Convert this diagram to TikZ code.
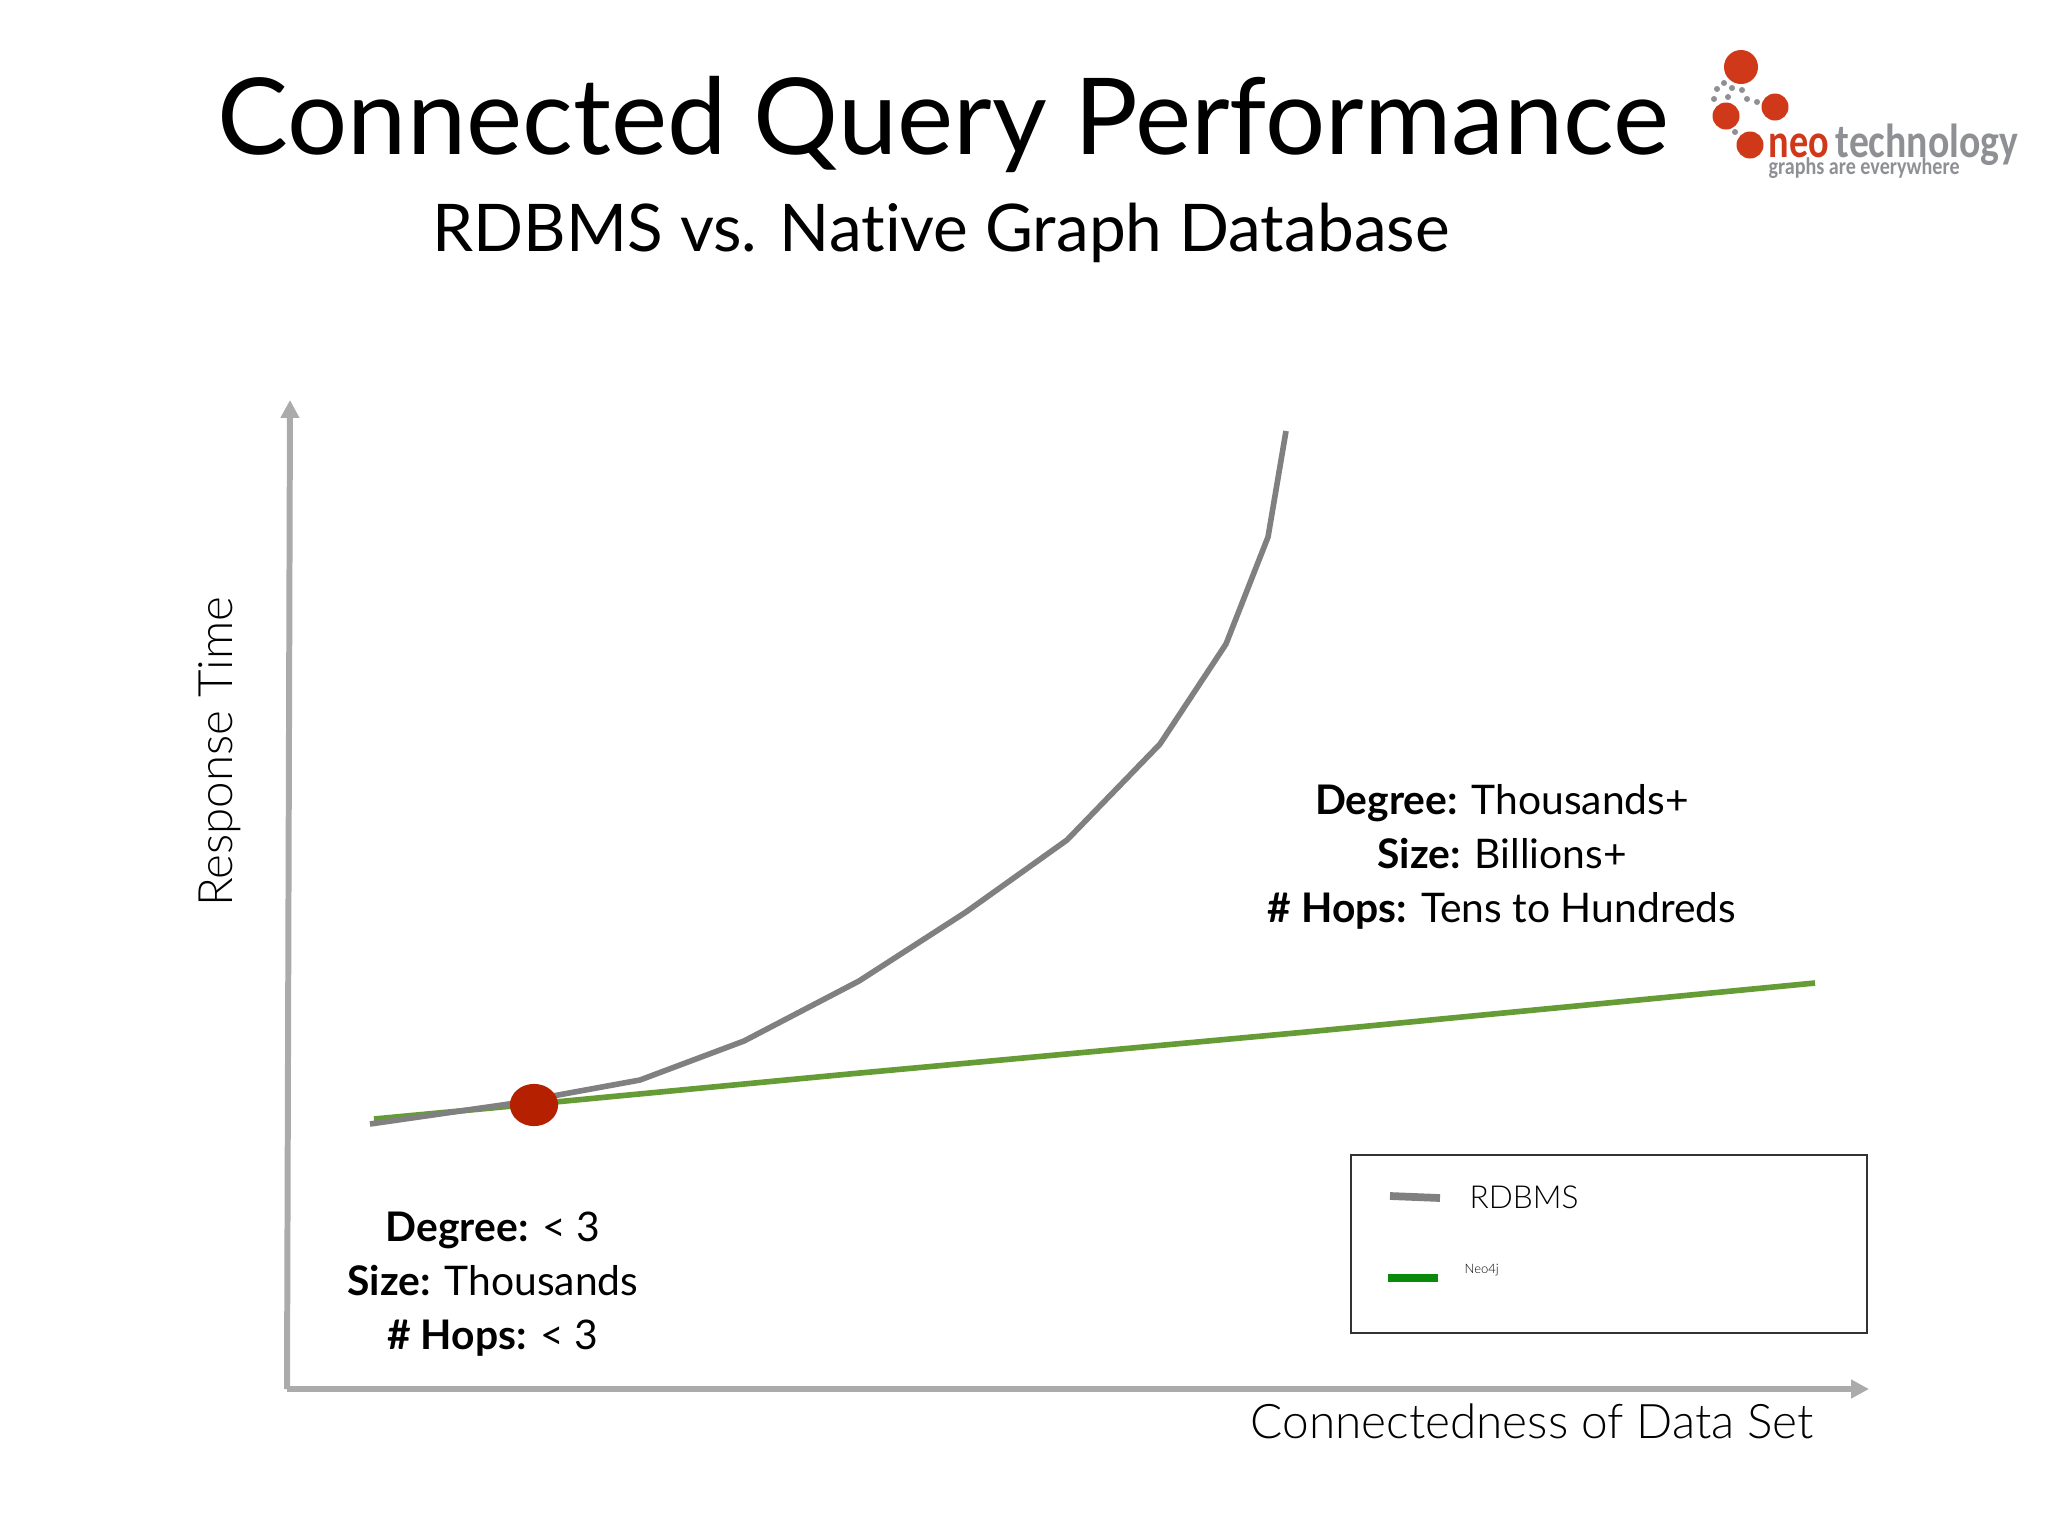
\documentclass[tikz,border=0pt]{standalone}
\usepackage{fontspec}
\setmainfont[Ligatures=NoCommon]{Lato}
\newfontfamily\lightfont{Lato Light}
\newfontfamily\logofont{Carlito}
\usetikzlibrary{arrows.meta}
\usetikzlibrary{shapes.geometric}
\definecolor{axisgray}{HTML}{ABABAB}
\definecolor{rdbmsgray}{HTML}{808080}
\definecolor{neogreen}{HTML}{669C35}
\definecolor{legendgreen}{HTML}{0A8A0A}
\definecolor{dotred}{HTML}{B52000}
\definecolor{logored}{HTML}{D0381A}
\definecolor{logogray}{HTML}{8E9094}
\tikzset{
  axisline/.style={draw=axisgray,line width=1.7pt,-{Triangle[length=5.1pt,width=5.1pt]}},
  curveline/.style={line width=1.6pt},
  facts/.style={align=center,inner sep=0pt,font=\fontsize{11.6}{15.4}\selectfont},
  lighttext/.style={inner sep=0pt,anchor=base west}
}
\begin{document}
\begin{tikzpicture}[x=0.01cm,y=-0.01cm]

\useasboundingbox (0,0) rectangle (2048,1536);
\fill[white] (0,0) rectangle (2048,1536);

% title
\node[inner sep=0pt,anchor=base west,font=\fontsize{30.2}{36}\selectfont] (title) at (217,154) {Connected Query Performance};
\node[inner sep=0pt,anchor=base west,font=\fontsize{18.7}{22}\selectfont] (subtitle) at (432,251) {RDBMS vs. Native Graph Database};

% logo
\fill[logored] (1741,67) circle[radius=17];
\fill[logored] (1775,107) circle[radius=13.5];
\fill[logored] (1726,116) circle[radius=13.5];
\fill[logored] (1750,145) circle[radius=13.5];
\foreach \a/\b in {1724/83,1732/88,1742/90,1717/89,1714/99,1728/97,1747/99,1757/102,1735/132}
  \fill[logogray] (\a,\b) circle[radius=3];
\node[inner sep=0pt,anchor=base west,text=logored,font=\logofont\bfseries\fontsize{13.6}{14}\selectfont] (neo) at (1768,157) {\scalebox{0.8}[1]{neo}};
\node[inner sep=0pt,anchor=base west,text=logogray,font=\logofont\bfseries\fontsize{13.6}{14}\selectfont] (tech) at (1835,157) {\scalebox{0.83}[1]{technology}};
\node[inner sep=0pt,anchor=base west,text=logogray,font=\logofont\bfseries\fontsize{6.8}{7}\selectfont] (slogan) at (1768,174) {\scalebox{0.84}[1]{graphs are everywhere}};

% axes
\coordinate (origin) at (287,1389);
\coordinate (ytip) at (290,400);
\coordinate (xtip) at (1869,1389);
\draw[axisline] (origin) -- (ytip);
\draw[axisline] (origin) -- (xtip);

\node[lighttext,anchor=base,rotate=90,font=\lightfont\fontsize{13.5}{16}\selectfont] (ylabel) at (232,752) {Response Time};
\node[lighttext,font=\lightfont\fontsize{13.57}{16}\selectfont] (xlabel) at (1250,1438) {Connectedness of Data Set};

% curves
\draw[curveline,neogreen] (374,1119) -- (534,1104) -- (849,1074) -- (1306,1032) -- (1815,983);
\draw[curveline,rdbmsgray] (370,1124) -- (509,1104) -- (640,1080) -- (744,1041) -- (859,981) -- (966,912)
  -- (1067,840) -- (1160,744) -- (1226,644) -- (1268,537) -- (1286,431);
\node[fill=dotred,ellipse,minimum width=13.7pt,minimum height=12pt,inner sep=0pt] (dot) at (534,1105) {};

\node[facts] (factslow) at (493,1284) {\textbf{Degree:} < 3\\\textbf{Size:} Thousands\\\textbf{\# Hops:} < 3};
\node[facts] (factshigh) at (1502,857) {\textbf{Degree:} Thousands+\\\textbf{Size:} Billions+\\\textbf{\# Hops:} Tens to Hundreds};

% legend
\draw[line width=0.45pt,black!80] (1351,1155) rectangle (1867,1333);
\coordinate (ga) at (1390,1196);
\coordinate (gb) at (1440,1198);
\coordinate (ka) at (1388,1278);
\coordinate (kb) at (1438,1278);
\draw[line width=2.2pt,rdbmsgray] (ga) -- (gb);
\draw[line width=2.2pt,legendgreen] (ka) -- (kb);
\node[lighttext,font=\lightfont\fontsize{9}{12}\selectfont] (rdbmslabel) at (1469,1208) {RDBMS};
\node[lighttext,font=\lightfont\fontsize{3.7}{4}\selectfont] (neolabel) at (1464,1273) {Neo4j};

\end{tikzpicture}
\end{document}
